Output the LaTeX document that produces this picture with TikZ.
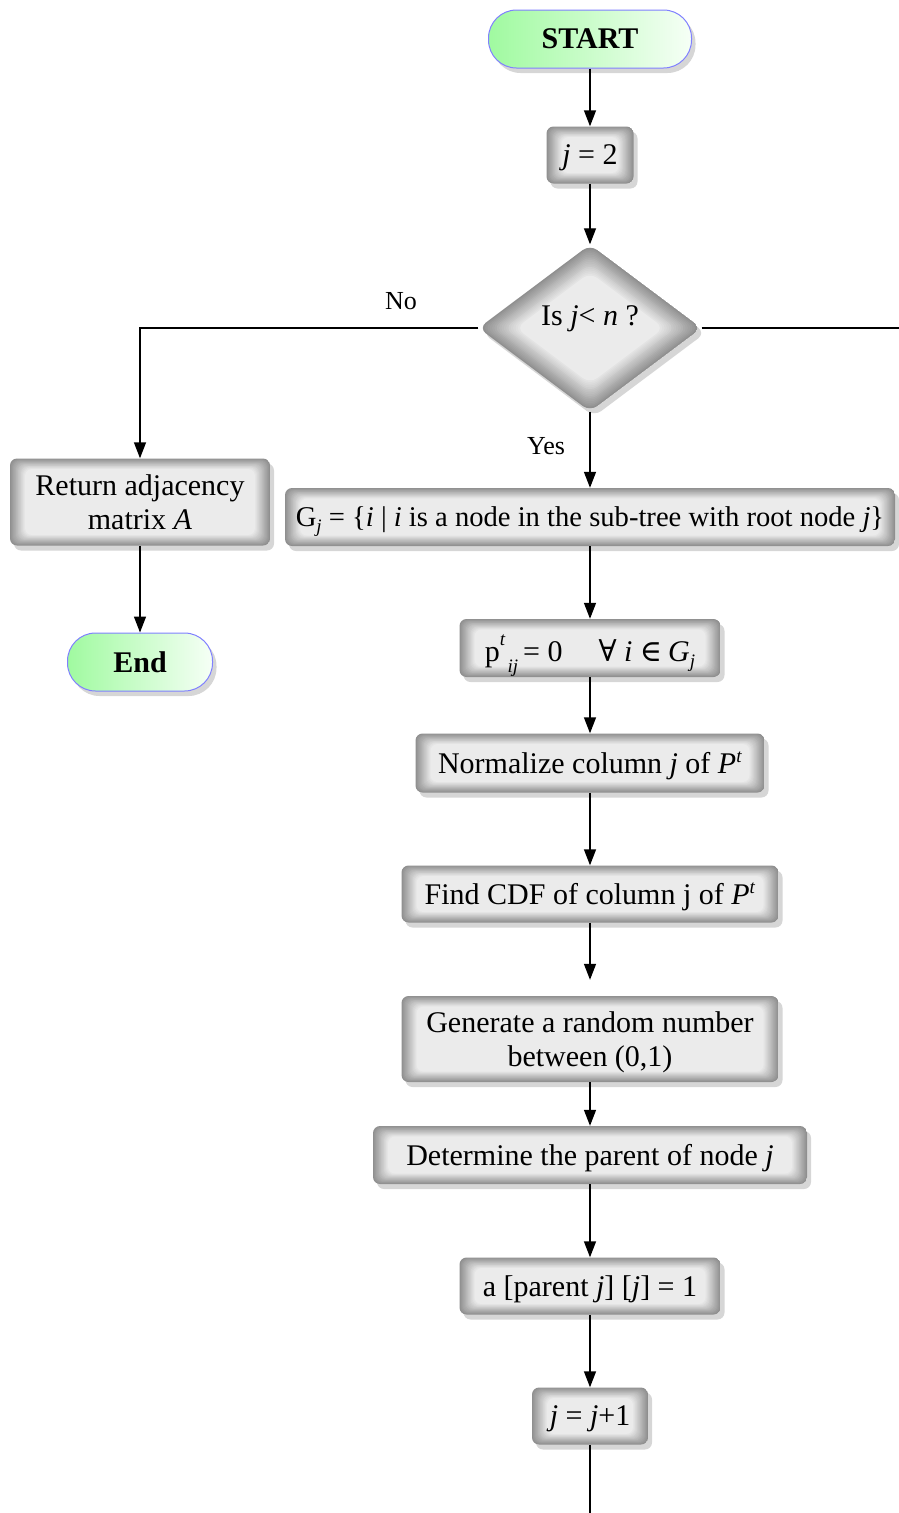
\documentclass[tikz,border=0pt]{standalone}
\usepackage{fontspec}
\setmainfont{Liberation Serif}
\newfontfamily\symfont{DejaVu Serif}
\usetikzlibrary{shapes.geometric,shadows,arrows.meta}
\newcommand\mainsz{\fontsize{30}{34}\selectfont}
\newcommand\gsz{\fontsize{28.6}{34}\selectfont}
\newcommand\subsz{\fontsize{19}{21}\selectfont}
\newcommand\lblsz{\fontsize{26}{30}\selectfont}
\definecolor{termL}{RGB}{160,250,160}
\definecolor{termR}{RGB}{246,255,246}
\definecolor{termD}{RGB}{128,128,255}
\tikzset{
  shad/.style={drop shadow={shadow xshift=4pt, shadow yshift=-5pt, opacity=0.16, fill=black}},
  gbox/.style={rectangle, rounded corners=7pt, inner sep=2pt, align=center, font=\mainsz, shad,
    text depth=0pt,
    path picture={
      \foreach \k in {0,...,15}{
        \pgfmathtruncatemacro\c{44-2.4*\k}
        \fill[black!\c, rounded corners=7pt]
          ([shift={(\k*1pt,-\k*0.7pt)}]path picture bounding box.north west) rectangle
          ([shift={(-\k*1pt,\k*0.7pt)}]path picture bounding box.south east);
      }
    }},
  gdia/.style={diamond, aspect=1.335, inner sep=0pt, rounded corners=9pt, font=\mainsz, shad,
    path picture={
      \foreach \k in {0,...,16}{
        \pgfmathtruncatemacro\c{44-2.2*\k}
        \pgfmathsetmacro\f{1-\k*0.021}
        \fill[black!\c, rounded corners=9pt]
          ([shift={(\f*111.5pt,0)}]path picture bounding box.center) --
          ([shift={(0,\f*83.5pt)}]path picture bounding box.center) --
          ([shift={(-\f*111.5pt,0)}]path picture bounding box.center) --
          ([shift={(0,-\f*83.5pt)}]path picture bounding box.center) -- cycle;
      }
    }},
  term/.style={rectangle, rounded corners=28pt, draw=termD, line width=1pt,
    left color=termL, right color=termR, font=\mainsz\bfseries, shad},
  arr/.style={line width=1.4pt, -{Triangle[width=12pt,length=16pt]}},
  ln/.style={line width=1.4pt},
  lbl/.style={font=\lblsz, inner sep=0pt}
}
\begin{document}
\begin{tikzpicture}[x=1pt,y=1pt]
\useasboundingbox (0,0) rectangle (899,-1513);

\node[term, minimum width=203pt, minimum height=58pt] (start) at (590,-39) {START};
\node[gbox, minimum width=87pt, minimum height=57pt] (j2) at (590,-155) {\textit{j} = 2};
\node[gdia, minimum width=223pt, minimum height=167pt] (dia) at (590,-328) {\raisebox{24pt}{Is \textit{j}< \textit{n} ?}};
\node[gbox, minimum width=260pt, minimum height=87pt] (ret) at (140,-502) {Return adjacency\\matrix \textit{A}};
\node[term, minimum width=145pt, minimum height=58pt] (end) at (140,-662) {End};
\node[gbox, font=\gsz, minimum width=610pt, minimum height=58pt] (G) at (590,-517)
  {G\raisebox{-6pt}{\subsz\textit{j}} = \{\textit{i} | \textit{i} is a node in the sub-tree with root node \textit{j}\}};
\node[gbox, minimum width=261pt, minimum height=58pt] (p) at (590,-648)
  {p\raisebox{16pt}{\subsz\textit{t}}\hspace{2pt}\raisebox{-11pt}{\subsz\textit{ij}}\,= 0\hspace{1.2em}{\symfont\mdseries ∀}\hspace{0.25em}\textit{i}\hspace{0.25em}{\symfont ∈}\hspace{0.2em}\textit{G}\raisebox{-6pt}{\subsz\textit{j}}};
\node[gbox, minimum width=349pt, minimum height=59pt] (norm) at (590,-763)
  {Normalize column \textit{j} of \textit{P}\raisebox{11pt}{\subsz\textit{t}}};
\node[gbox, minimum width=377pt, minimum height=57pt] (cdf) at (590,-894)
  {Find CDF of column j of \textit{P}\raisebox{11pt}{\subsz\textit{t}}};
\node[gbox, minimum width=377pt, minimum height=86pt] (gen) at (590,-1039)
  {Generate a random number\\between (0,1)};
\node[gbox, minimum width=434pt, minimum height=58pt] (det) at (590,-1155)
  {Determine the parent of node \textit{j}};
\node[gbox, minimum width=261pt, minimum height=57pt] (a) at (590,-1286)
  {a [parent \textit{j}] [\textit{j}] = 1};
\node[gbox, minimum width=116pt, minimum height=57pt] (jj) at (590,-1416)
  {\textit{j} = \textit{j}+1};

\coordinate (rightend) at (899,-328);
\coordinate (botend) at (590,-1513);

\node[lbl] (no) at (401,-301) {No};
\node[lbl] (yes) at (546,-446) {Yes};

\draw[arr] (start) -- (j2);
\draw[arr] (j2) -- (dia);
\draw[arr] (dia.west) -| (ret.north);
\draw[ln] (dia.east) -- (rightend);
\draw[arr] (dia.south) -- (G.north);
\draw[arr] (ret) -- (end);
\draw[arr] (G) -- (p);
\draw[arr] (p) -- (norm);
\draw[arr] (norm) -- (cdf);
\draw[arr, shorten >=16pt] (cdf) -- (gen);
\draw[arr] (gen) -- (det);
\draw[arr] (det) -- (a);
\draw[arr] (a) -- (jj);
\draw[ln] (jj) -- (botend);
\end{tikzpicture}
\end{document}
